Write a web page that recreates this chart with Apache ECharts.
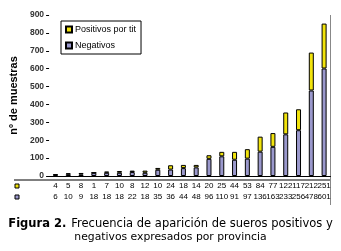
<!DOCTYPE html>
<html><head><meta charset="utf-8">
<script src="https://cdn.jsdelivr.net/npm/echarts@6/dist/echarts.min.js"></script>
<style>html,body{margin:0;padding:0;background:#fff}#c{width:341px;height:251px}</style>
</head><body><div id="c"></div>
<script>
const categories = ['1','2','3','4','5','6','7','8','9','10','11','12','13','14','15','16','17','18','19','20','21','22'];
const positivos = [4,5,8,1,7,10,8,12,10,24,18,14,20,25,44,53,84,77,122,117,212,251];
const negativos = [6,10,9,18,18,18,22,18,35,36,44,48,96,110,91,97,136,163,233,256,478,601];
const yTicks = {min:0, max:900, interval:100};

const chart = echarts.init(document.getElementById('c'), null, {renderer:'canvas'});
const YEL = '#f2e40c', PUR = '#9a98cc';
chart.setOption({
  animation:false,
  backgroundColor:'#fff',
  title:[{
    text:'{b|Figura 2.} {n|Frecuencia de aparición de sueros positivos y}',
    left:'center', top:215, padding:0,
    textStyle:{fontWeight:'normal',rich:{
      b:{fontFamily:'DejaVu Sans',fontSize:11.5,fontWeight:'bold',color:'#000'},
      n:{fontFamily:'DejaVu Sans',fontSize:11.5,fontWeight:'normal',color:'#000'}
    }}
  },{
    text:'negativos expresados por provincia',
    left:'center', top:232, padding:0,
    textStyle:{fontFamily:'DejaVu Sans',fontSize:10.8,fontWeight:'normal',color:'#000'}
  }],
  legend:{
    orient:'vertical', left:61, top:21,
    data:['Positivos por tit','Negativos'],
    itemWidth:6, itemHeight:6, itemGap:7,
    borderColor:'#000', borderWidth:1, padding:[4,5,4,4],
    backgroundColor:'#fff',
    textStyle:{fontFamily:'Arial',fontSize:9,color:'#000',padding:[0,0,0,-2]},
    icon:'rect'
  },
  grid:{left:43.5, right:10.5, top:15, bottom:75},
  xAxis:{
    type:'category', data:categories,
    axisLine:{lineStyle:{color:'#000',width:1}},
    axisTick:{show:false},
    axisLabel:{
      interval:0, margin:4, hideOverlap:false,
      formatter:(v,i)=>'{p|'+positivos[i]+'}\n{n|'+negativos[i]+'}',
      rich:{p:{fontFamily:'Arial',fontSize:8,color:'#000',lineHeight:11},
            n:{fontFamily:'Arial',fontSize:8,color:'#000',lineHeight:11}}
    }
  },
  yAxis:{
    type:'value', min:yTicks.min, max:yTicks.max, interval:yTicks.interval,
    name:'nº de muestras', nameLocation:'middle', nameRotate:90, nameGap:26,
    nameTextStyle:{fontFamily:'Arial',fontSize:11,fontWeight:'bold',color:'#000'},
    axisLine:{show:false},
    axisTick:{show:true,length:3,lineStyle:{color:'#000'}},
    axisLabel:{fontFamily:'Arial',fontSize:8.5,fontWeight:'bold',color:'#333',margin:5},
    splitLine:{show:false}
  },
  series:[
    {name:'Negativos',type:'bar',stack:'t',data:negativos,barWidth:5,
     itemStyle:{color:PUR,borderColor:'#000',borderWidth:1}},
    {name:'Positivos por tit',type:'bar',stack:'t',data:positivos,barWidth:5,
     itemStyle:{color:YEL,borderColor:'#000',borderWidth:1}}
  ],
  graphic:[
    {type:'line',shape:{x1:14,y1:180,x2:330.5,y2:180},style:{stroke:'#000',lineWidth:1}},
    {type:'line',shape:{x1:330.5,y1:15,x2:330.5,y2:205},style:{stroke:'#888',lineWidth:1}},
    {type:'rect',shape:{x:15,y:184,width:4,height:4},style:{fill:YEL,stroke:'#000',lineWidth:1}},
    {type:'rect',shape:{x:15,y:195,width:4,height:4},style:{fill:PUR,stroke:'#000',lineWidth:1}}
  ]
});
</script></body></html>
